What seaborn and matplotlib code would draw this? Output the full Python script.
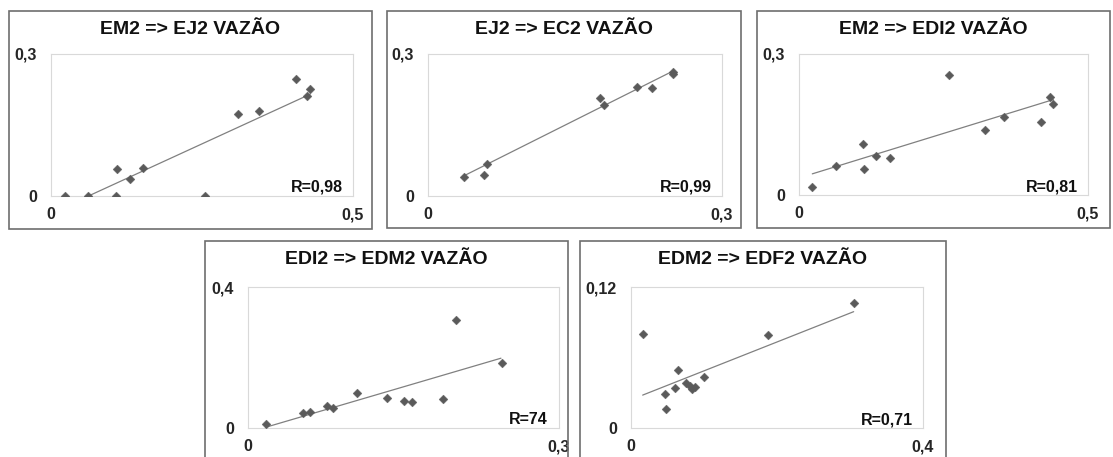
import matplotlib
matplotlib.use("Agg")
import matplotlib.pyplot as plt
from matplotlib.patches import Rectangle
import seaborn as sns

# values (decimal comma labels kept as text)
titles = ["EM2 => EJ2 VAZÃO", "EJ2 => EC2 VAZÃO", "EM2 => EDI2 VAZÃO",
          "EDI2 => EDM2 VAZÃO", "EDM2 => EDF2 VAZÃO"]
r_labels = ["R=0,98", "R=0,99", "R=0,81", "R=74", "R=0,71"]
x_max = [0.5, 0.3, 0.5, 0.3, 0.4]
y_max = [0.3, 0.3, 0.3, 0.4, 0.12]
x_ticklabels = [["0", "0,5"], ["0", "0,3"], ["0", "0,5"], ["0", "0,3"], ["0", "0,4"]]
y_ticklabels = [["0", "0,3"], ["0", "0,3"], ["0", "0,3"], ["0", "0,4"], ["0", "0,12"]]

em2_ej2_x = [0.024, 0.062, 0.108, 0.109, 0.130, 0.153, 0.255, 0.310, 0.345, 0.406, 0.424, 0.429]
em2_ej2_y = [0.0, 0.0, 0.0, 0.058, 0.035, 0.059, 0.0, 0.173, 0.179, 0.248, 0.212, 0.226]
ej2_ec2_x = [0.037, 0.057, 0.060, 0.175, 0.180, 0.213, 0.229, 0.250, 0.250]
ej2_ec2_y = [0.040, 0.044, 0.068, 0.208, 0.193, 0.231, 0.229, 0.261, 0.258]
em2_edi2_x = [0.023, 0.064, 0.111, 0.113, 0.133, 0.157, 0.260, 0.321, 0.354, 0.419, 0.435, 0.440]
em2_edi2_y = [0.017, 0.061, 0.109, 0.055, 0.084, 0.079, 0.255, 0.139, 0.165, 0.155, 0.209, 0.194]
edi2_edm2_x = [0.017, 0.053, 0.060, 0.076, 0.082, 0.105, 0.134, 0.150, 0.158, 0.188, 0.201, 0.245]
edi2_edm2_y = [0.012, 0.042, 0.044, 0.061, 0.057, 0.098, 0.086, 0.078, 0.074, 0.083, 0.305, 0.184]
edm2_edf2_x = [0.016, 0.046, 0.048, 0.060, 0.064, 0.076, 0.081, 0.084, 0.088, 0.100, 0.187, 0.305]
edm2_edf2_y = [0.080, 0.029, 0.016, 0.034, 0.049, 0.038, 0.036, 0.033, 0.035, 0.043, 0.079, 0.106]

# trend line ends as drawn in the reference
trend_x = [[0.062, 0.429], [0.037, 0.250], [0.023, 0.440], [0.017, 0.244], [0.016, 0.305]]
trend_y = [[0.0, 0.215], [0.043, 0.264], [0.045, 0.203], [0.002, 0.198], [0.028, 0.099]]

xs = [em2_ej2_x, ej2_ec2_x, em2_edi2_x, edi2_edm2_x, edm2_edf2_x]
ys = [em2_ej2_y, ej2_ec2_y, em2_edi2_y, edi2_edm2_y, edm2_edf2_y]

sns.set_style("white")
plt.rcParams["font.family"] = ["Liberation Sans", "DejaVu Sans"]

W, H = 1113, 457
fig = plt.figure(figsize=(W / 100, H / 100), dpi=100)

# layout in pixels: frame box, plot area
frames = [(9, 11, 372, 229), (387, 11, 741, 228), (757, 11, 1110, 228),
          (205, 241, 568, 470), (580, 241, 946, 470)]
areas = [(51, 54, 353, 196), (428, 54, 722, 196), (799, 54, 1088, 195),
         (248, 287, 559, 428), (631, 287, 923, 428)]

def px_rect(x0, y0, x1, y1):
    return [x0 / W, 1 - y1 / H, (x1 - x0) / W, (y1 - y0) / H]

for i in range(5):
    fx0, fy0, fx1, fy1 = frames[i]
    l, b, w, h = px_rect(fx0, fy0, fx1, fy1)
    fig.patches.append(Rectangle((l, b), w, h, transform=fig.transFigure,
                                 fill=False, edgecolor="#6e6e6e", linewidth=1.2))
    fig.text((fx0 + fx1) / 2 / W, 1 - (fy0 + 18.5) / H, titles[i],
             ha="center", va="center", fontsize=14, fontweight="bold", color="#111111")

    ax = fig.add_axes(px_rect(*areas[i]))
    sns.lineplot(x=trend_x[i], y=trend_y[i], ax=ax, color="#808080", linewidth=0.9)
    sns.scatterplot(x=xs[i], y=ys[i], ax=ax, marker="D", s=20, color="#5a5a5a",
                    edgecolor="#5a5a5a", linewidth=0.3, zorder=3)
    ax.set_xlim(0, x_max[i])
    ax.set_ylim(0, y_max[i])
    ax.set_xticks([0, x_max[i]])
    ax.set_xticklabels(x_ticklabels[i], fontsize=11.5, fontweight="bold")
    ax.set_yticks([0, y_max[i]])
    ax.set_yticklabels(y_ticklabels[i], fontsize=11.5, fontweight="bold")
    ax.tick_params(axis="x", length=0, pad=8)
    ax.tick_params(axis="y", length=0, pad=10)
    for s in ax.spines.values():
        s.set_color("#d9d9d9")
        s.set_linewidth(0.8)
    ax.text(0.965, 0.06, r_labels[i], transform=ax.transAxes, ha="right", va="center",
            fontsize=11.5, fontweight="bold", color="#111111")

fig.savefig("out.png", dpi=100)
